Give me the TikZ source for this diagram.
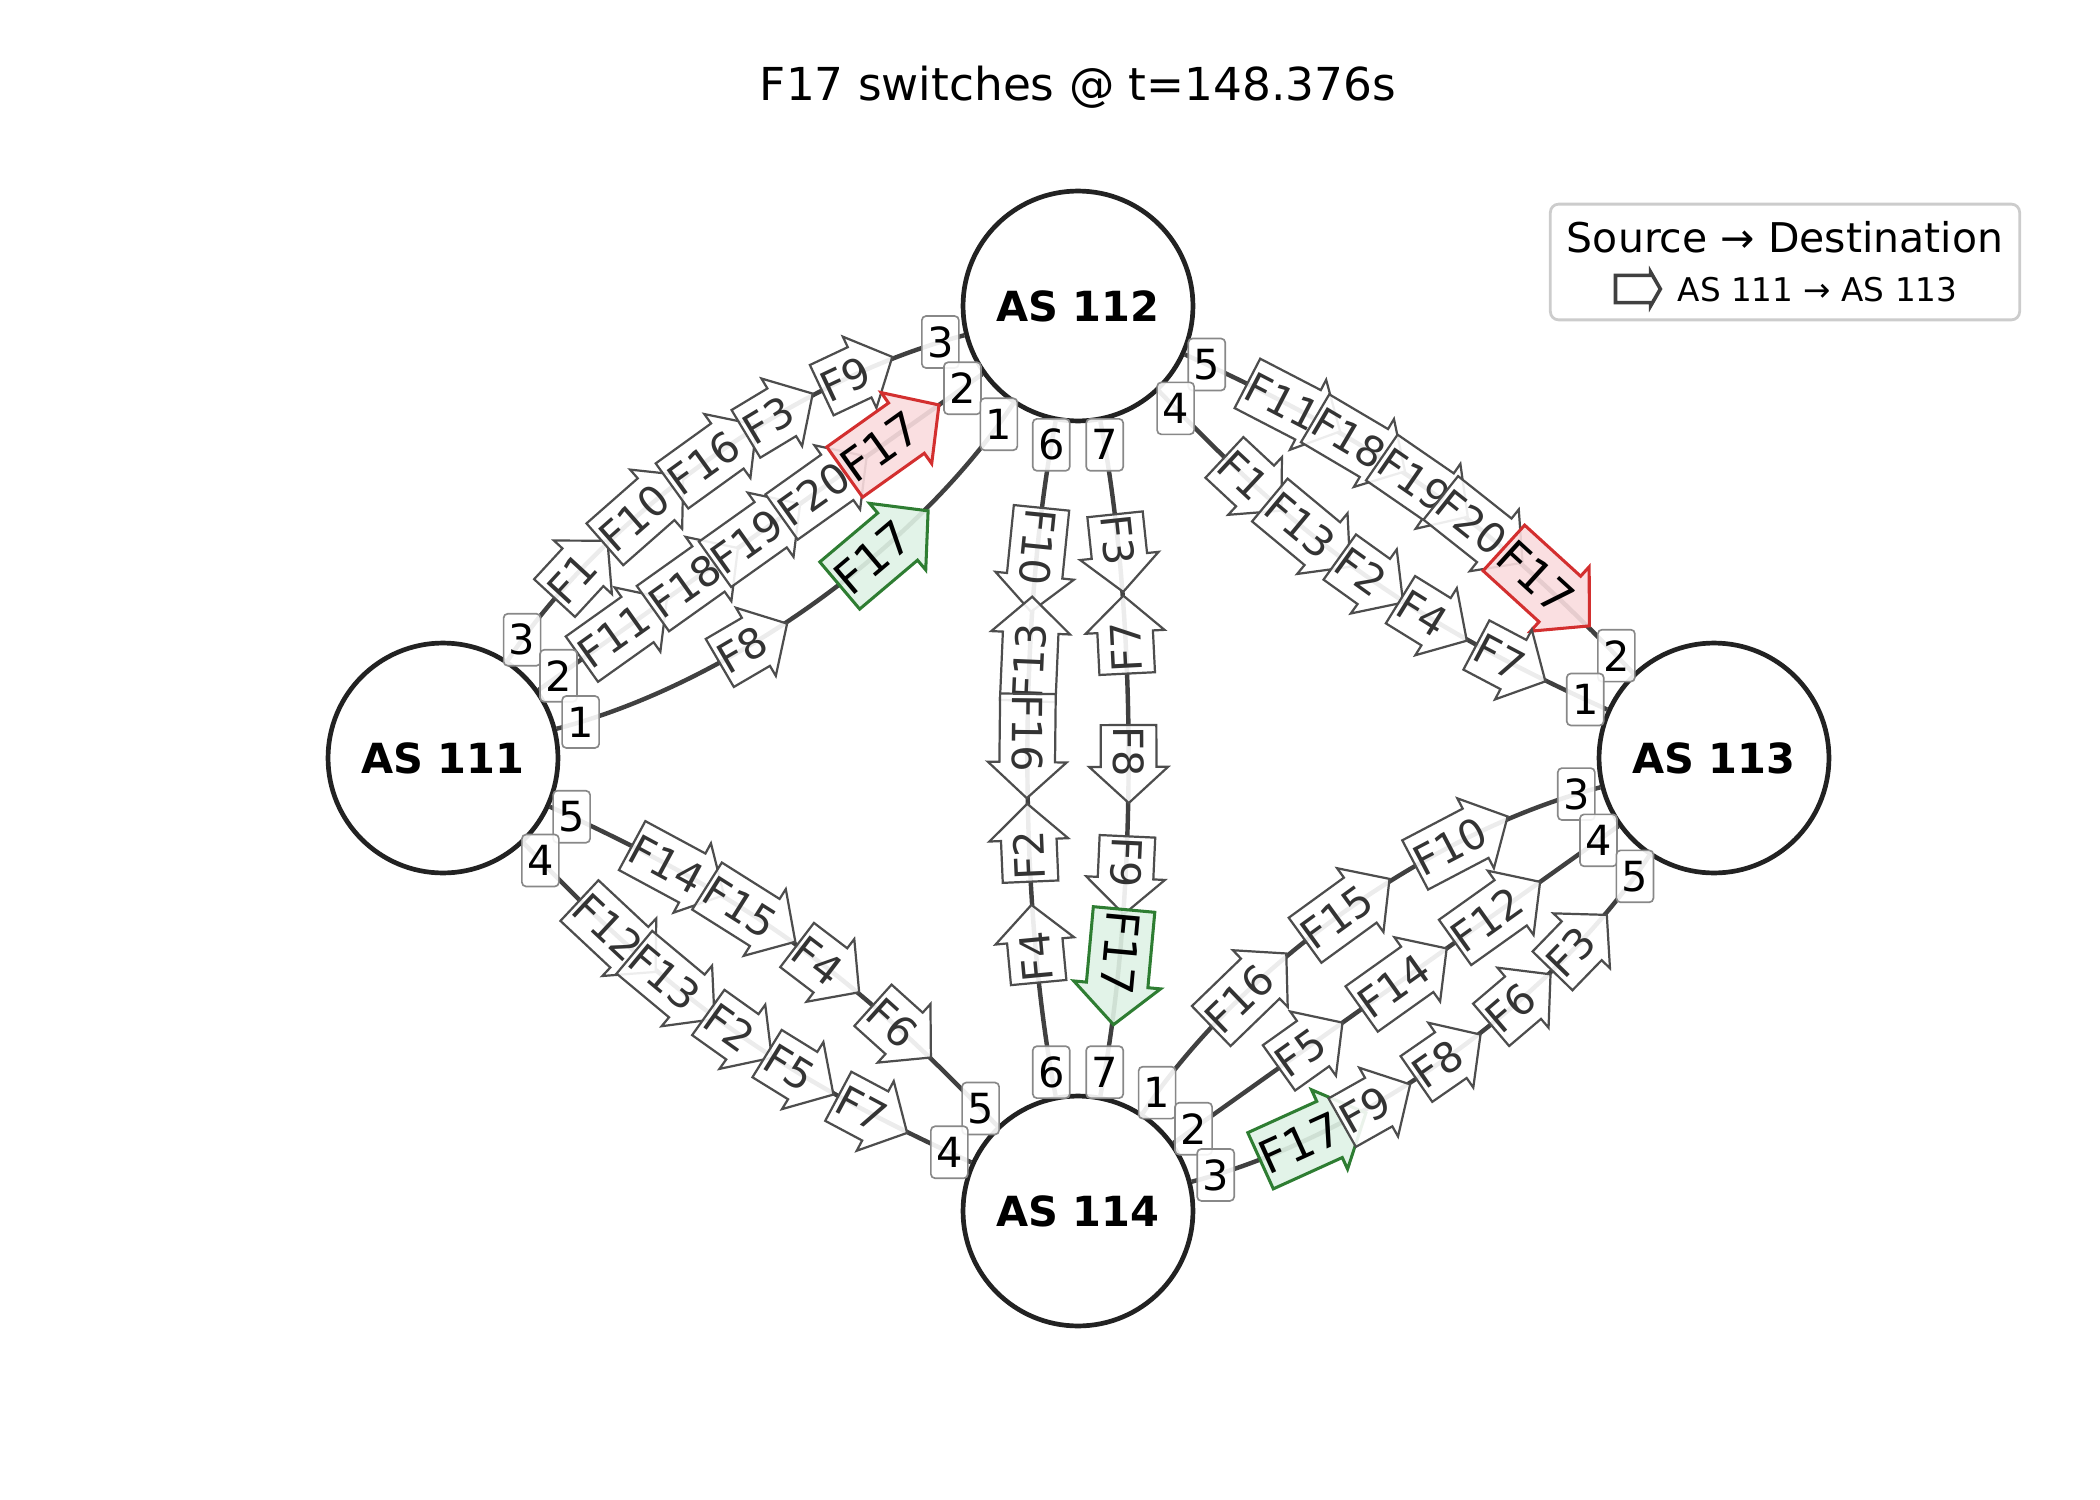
\documentclass[tikz,border=0pt]{standalone}
\usepackage{fontspec}
\setmainfont{DejaVu Sans}
\usetikzlibrary{shapes.arrows}
\definecolor{ink}{HTML}{222222}
\definecolor{wire}{HTML}{404040}
\definecolor{flowdraw}{HTML}{4D4D4D}
\definecolor{flowtext}{HTML}{333333}
\definecolor{portdraw}{HTML}{888888}
\definecolor{oldred}{HTML}{D32F2F}
\definecolor{oldredfill}{HTML}{F9DCDE}
\definecolor{newgreen}{HTML}{2E7D32}
\definecolor{newgreenfill}{HTML}{DFF2E5}
\definecolor{legendframe}{HTML}{CCCCCC}
\tikzset{
  as/.style={circle, draw=ink, line width=1.7pt, fill=white, minimum size=29.2mm,
    inner sep=0pt, font=\fontsize{15}{18}\selectfont\bfseries},
  link/.style={draw=wire, line width=1.6pt},
  port/.style={draw=portdraw, line width=0.6pt, fill=white, fill opacity=0.9,
    text opacity=1, rounded corners=1.5pt, inner sep=0pt, minimum width=4.7mm,
    minimum height=6.6mm, font=\fontsize{15}{18}\selectfont},
  flow/.style={single arrow, draw=flowdraw, line width=0.8pt, fill=white,
    fill opacity=0.9, text opacity=1, text=flowtext, sloped, allow upside down,
    single arrow tip angle=95, single arrow head extend=4.2pt,
    inner xsep=0pt, inner ysep=4.2pt, text height=10.9pt, text depth=0pt,
    font=\fontsize{15}{18}\selectfont},
  back/.style={rotate=180},
  oldpath/.style={flow, draw=oldred, fill=oldredfill, text=black, line width=1.1pt,
    single arrow head extend=4.6pt, inner ysep=4.6pt, text height=12pt,
    font=\fontsize{16.5}{19}\selectfont},
  newpath/.style={oldpath, draw=newgreen, fill=newgreenfill},
  keyarrow/.style={single arrow, draw=wire, line width=1.3pt, fill=white,
    minimum height=5.7mm, inner xsep=0pt, inner ysep=1.5mm,
    single arrow head extend=0.4mm, single arrow tip angle=120},
}

\begin{document}
\begin{tikzpicture}[x=0.127mm, y=0.127mm]
  \useasboundingbox (0,0) rectangle (2100,-1500);

  \node[anchor=base, font=\fontsize{16.4}{19}\selectfont] (title) at (1078,-100)
    {F17 switches @ t=148.376s};

  \node[as] (as111) at (443,-758) {AS 111};
  \node[as] (as112) at (1078,-306) {AS 112};
  \node[as] (as113) at (1714,-758) {AS 113};
  \node[as] (as114) at (1078,-1211) {AS 114};

  % AS 111 -- AS 112
  \draw[link] (as111) to[bend left=21, looseness=.8]
    node[flow, pos=.19] (ab3F1) {F1} node[flow, pos=.34] (ab3F10) {F10}
    node[flow, pos=.49] (ab3F16) {F16} node[flow, pos=.62] (ab3F3) {F3}
    node[flow, pos=.77] (ab3F9) {F9}
    node[port, pos=.047] (ab3s) {3} node[port, pos=.953] (ab3t) {3} (as112);
  \draw[link] (as111) to
    node[flow, pos=.17] (ab2F11) {F11} node[flow, pos=.33] (ab2F18) {F18}
    node[flow, pos=.47] (ab2F19) {F19} node[flow, pos=.62] (ab2F20) {F20}
    node[oldpath, pos=.77] (ab2F17) {F17}
    node[port, pos=.045] (ab2s) {2} node[port, pos=.955] (ab2t) {2} (as112);
  \draw[link] (as111) to[bend right=21, looseness=.8]
    node[flow, pos=.36] (ab1F8) {F8} node[newpath, pos=.63] (ab1F17) {F17}
    node[port, pos=.047] (ab1s) {1} node[port, pos=.953] (ab1t) {1} (as112);

  % AS 112 -- AS 113
  \draw[link] (as112) to[bend left=11]
    node[flow, pos=.18] (bc5F11) {F11} node[flow, pos=.32] (bc5F18) {F18}
    node[flow, pos=.47] (bc5F19) {F19} node[flow, pos=.61] (bc5F20) {F20}
    node[oldpath, pos=.77] (bc5F17) {F17}
    node[port, pos=.038] (bc5s) {5} node[port, pos=.962] (bc5t) {2} (as113);
  \draw[link] (as112) to[bend right=11]
    node[flow, pos=.20] (bc4F1) {F1} node[flow, pos=.34] (bc4F13) {F13}
    node[flow, pos=.49] (bc4F2) {F2} node[flow, pos=.635] (bc4F4) {F4}
    node[flow, pos=.80] (bc4F7) {F7}
    node[port, pos=.038] (bc4s) {4} node[port, pos=.962] (bc4t) {1} (as113);

  % AS 112 -- AS 114
  \draw[link] (as112) to[bend right=11, looseness=.75]
    node[flow, pos=.20] (bd6F10) {F10} node[flow, back, pos=.365] (bd6F13) {F13}
    node[flow, pos=.465] (bd6F16) {F16} node[flow, back, pos=.635] (bd6F2) {F2}
    node[flow, back, pos=.78] (bd6F4) {F4}
    node[port, pos=.04] (bd6s) {6} node[port, pos=.96] (bd6t) {6} (as114);
  \draw[link] (as112) to[bend left=11, looseness=.75]
    node[flow, pos=.19] (bd7F3) {F3} node[flow, back, pos=.345] (bd7F7) {F7}
    node[flow, pos=.49] (bd7F8) {F8} node[flow, pos=.645] (bd7F9) {F9}
    node[newpath, pos=.775] (bd7F17) {F17}
    node[port, pos=.04] (bd7s) {7} node[port, pos=.96] (bd7t) {7} (as114);

  % AS 111 -- AS 114
  \draw[link] (as111) to[bend left=11]
    node[flow, pos=.22] (ad5F14) {F14} node[flow, pos=.38] (ad5F15) {F15}
    node[flow, pos=.565] (ad5F4) {F4} node[flow, pos=.75] (ad5F6) {F6}
    node[port, pos=.038] (ad5s) {5} node[port, pos=.962] (ad5t) {5} (as114);
  \draw[link] (as111) to[bend right=11]
    node[flow, pos=.20] (ad4F12) {F12} node[flow, pos=.34] (ad4F13) {F13}
    node[flow, pos=.50] (ad4F2) {F2} node[flow, pos=.64] (ad4F5) {F5}
    node[flow, pos=.795] (ad4F7) {F7}
    node[port, pos=.038] (ad4s) {4} node[port, pos=.962] (ad4t) {4} (as114);

  % AS 114 -- AS 113
  \draw[link] (as114) to[bend left=21, looseness=.8]
    node[flow, pos=.27] (dc1F16) {F16} node[flow, pos=.485] (dc1F15) {F15}
    node[flow, pos=.71] (dc1F10) {F10}
    node[port, pos=.047] (dc1s) {1} node[port, pos=.953] (dc1t) {3} (as113);
  \draw[link] (as114) to
    node[flow, pos=.285] (dc2F5) {F5} node[flow, pos=.495] (dc2F14) {F14}
    node[flow, pos=.705] (dc2F12) {F12}
    node[port, pos=.045] (dc2s) {2} node[port, pos=.955] (dc2t) {4} (as113);
  \draw[link] (as114) to[bend right=21, looseness=.8]
    node[newpath, pos=.21] (dc3F17) {F17} node[flow, pos=.335] (dc3F9) {F9}
    node[flow, pos=.48] (dc3F8) {F8} node[flow, pos=.635] (dc3F6) {F6}
    node[flow, pos=.775] (dc3F3) {F3}
    node[port, pos=.047] (dc3s) {3} node[port, pos=.953] (dc3t) {5} (as113);

  % legend
  \node[draw=legendframe, line width=1pt, rounded corners=3pt, fill=white,
    minimum width=59.6mm, minimum height=14.7mm] (legend) at (1785,-262) {};
  \node[anchor=base, font=\fontsize{14.8}{17}\selectfont] (legendtitle) at (1785,-252)
    {Source → Destination};
  \node[keyarrow] (legendkey) at (1634,-289) {};
  \node[anchor=base west, font=\fontsize{11.8}{14}\selectfont] (legendtext) at (1668,-301)
    {AS 111 → AS 113};
\end{tikzpicture}
\end{document}
